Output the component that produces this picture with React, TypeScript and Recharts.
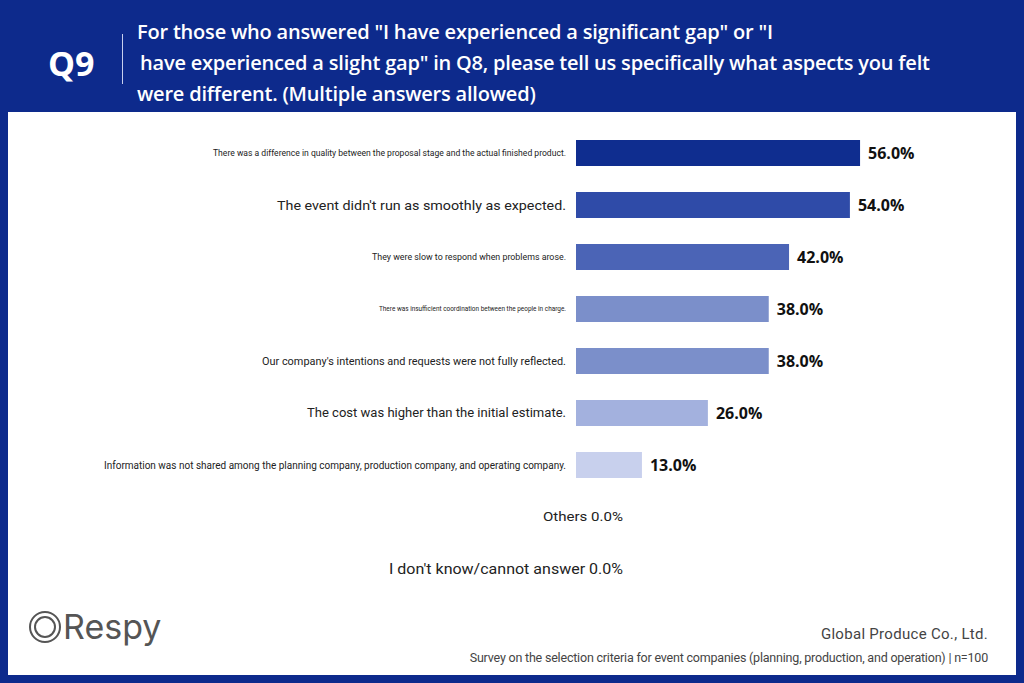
import React from "react";
import { BarChart, Bar, XAxis, YAxis, Cell, LabelList } from "recharts";

const categories = [
  "There was a difference in quality between the proposal stage and the actual finished product.",
  "The event didn't run as smoothly as expected.",
  "They were slow to respond when problems arose.",
  "There was insufficient coordination between the people in charge.",
  "Our company's intentions and requests were not fully reflected.",
  "The cost was higher than the initial estimate.",
  "Information was not shared among the planning company, production company, and operating company.",
  "Others",
  "I don't know/cannot answer",
];
const values = [56, 54, 42, 38, 38, 26, 13, 0, 0];
const colors = ["#0f2d8f", "#2f4ba8", "#4b64b6", "#7b8fca", "#7b8fca", "#a3b1de", "#c8d0ed", "#ccc", "#ccc"];
const labelSizes = [9, 13, 9, 7, 10.5, 12.5, 10, 12.5, 14.5];
const labelStarts = [213, 277, 372, 379, 262, 307, 104, 543, 389];

const data = categories.map((c, i) => ({ name: c, value: values[i], idx: i }));

const Tick = (props: any) => {
  const { y, payload } = props;
  const i = payload.index;
  const v = values[i];
  const zero = v === 0;
  const right = zero ? 623 : 566;
  const text = zero ? `${categories[i]} ${v.toFixed(1)}%` : categories[i];
  return (
    <text
      x={right}
      y={y}
      dy={labelSizes[i] * 0.35}
      textAnchor="end"
      fontSize={labelSizes[i]}
      fill="#222"
      fontFamily="Roboto, 'Noto Sans', sans-serif"
      textLength={right - labelStarts[i]}
      lengthAdjust="spacingAndGlyphs"
    >
      {text}
    </text>
  );
};

const ValueLabel = (props: any) => {
  const { x, y, width, height, value } = props;
  if (!value) return null;
  return (
    <text x={x + width + 8} y={y + height / 2 + 6} fontSize={16} fontWeight={700} fill="#111" fontFamily="'Open Sans', Roboto, sans-serif">
      {Number(value).toFixed(1)}%
    </text>
  );
};

export default function App() {
  return (
    <div style={{ position: "fixed", left: 0, top: 0, width: 1024, height: 683, background: "#0d2a8c", overflow: "hidden", fontFamily: "Roboto, 'Noto Sans', sans-serif" }}>
      <div style={{ position: "absolute", left: 48, top: 40, color: "#fff", fontSize: 34, fontWeight: 700, fontFamily: "'Open Sans', sans-serif" }}>Q9</div>
      <div style={{ position: "absolute", left: 122, top: 34, width: 1, height: 50, background: "#c8d0ee" }} />
      <div style={{ position: "absolute", left: 137, top: 16, color: "#fff", fontSize: 20, lineHeight: "31px", fontWeight: 600, fontFamily: "'Open Sans', sans-serif", width: 880, letterSpacing: -0.2 }}>
        <div>For those who answered "I have experienced a significant gap" or "I</div>
        <div style={{ marginLeft: 3 }}>have experienced a slight gap" in Q8, please tell us specifically what aspects you felt</div>
        <div>were different. (Multiple answers allowed)</div>
      </div>
      <div style={{ position: "absolute", left: 8, top: 112, width: 1008, height: 563, background: "#fff" }} />
      <div style={{ position: "absolute", left: 0, top: 127 }}>
        <BarChart width={1024} height={468} data={data} layout="vertical" margin={{ top: 0, right: 28, bottom: 0, left: 0 }}>
          <XAxis type="number" domain={[0, 82.8]} hide />
          <YAxis type="category" dataKey="name" width={576} axisLine={false} tickLine={false} tick={<Tick />} interval={0} />
          <Bar dataKey="value" barSize={26} isAnimationActive={false}>
            {data.map((d, i) => (
              <Cell key={i} fill={colors[i]} />
            ))}
            <LabelList dataKey="value" content={<ValueLabel />} />
          </Bar>
        </BarChart>
      </div>
      <div style={{ position: "absolute", left: 28, top: 606, fontSize: 34, color: "#555", fontFamily: "Inter, sans-serif", display: "flex", alignItems: "center" }}>
        <svg width="34" height="34" viewBox="0 0 34 34" style={{ marginRight: 1 }}>
          <circle cx="17" cy="17" r="15" fill="none" stroke="#555" strokeWidth="2" />
          <circle cx="17" cy="17" r="10" fill="none" stroke="#555" strokeWidth="2" />
        </svg>
        <span>Respy</span>
      </div>
      <div style={{ position: "absolute", right: 36, top: 625, fontSize: 15, color: "#444", letterSpacing: 0.3 }}>Global Produce Co., Ltd.</div>
      <div style={{ position: "absolute", right: 36, top: 650, fontSize: 12.5, color: "#444", letterSpacing: -0.2 }}>
        Survey on the selection criteria for event companies (planning, production, and operation) | n=100
      </div>
    </div>
  );
}
